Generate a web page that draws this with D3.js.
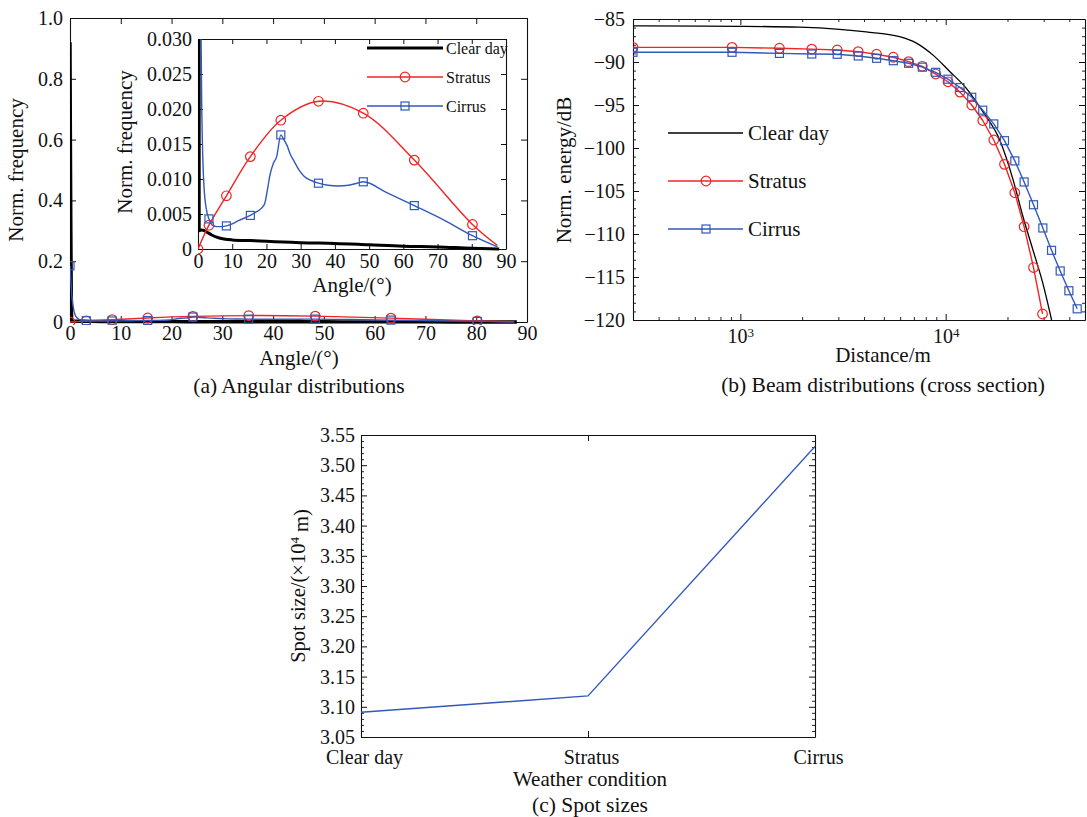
<!DOCTYPE html>
<html>
<head>
<meta charset="utf-8">
<script src="https://cdn.jsdelivr.net/npm/d3@7"></script>
<style>
  html, body { margin: 0; padding: 0; background: #fff; }
  svg { display: block; }
  text { font-family: "Liberation Serif", "Times New Roman", serif; fill: #111; }
</style>
</head>
<body>
<svg id="chart" width="1087" height="817"></svg>
<script>
// ---------------- DATA ----------------
// (a) Angular distributions
const aTicksX = [0, 10, 20, 30, 40, 50, 60, 70, 80, 90];
const aTicksY = [0, 0.2, 0.4, 0.6, 0.8, 1.0];
const insetTicksY = [0, 0.005, 0.010, 0.015, 0.020, 0.025, 0.030];
const markerAngles = [0, 3.2, 8.3, 15.3, 24.2, 35.2, 48.3, 63.2, 80.2];

const clearAngle = [0, 0.35, 1, 2, 3, 4, 6, 8, 10, 15, 20, 25, 30, 40, 50, 60, 70, 80, 88];
const clearFreq  = [0.92, 0.0026, 0.0027, 0.0026, 0.0023, 0.0020, 0.0016, 0.0014, 0.0013, 0.0012, 0.0011, 0.0010, 0.0009, 0.0008, 0.0006, 0.0004, 0.0003, 0.0001, 0.0];

const stratusAngle = [0, 3.2, 8.3, 15.3, 24.2, 35.2, 48.3, 63.2, 80.2, 87.5];
const stratusFreq  = [0, 0.0034, 0.0076, 0.0132, 0.0184, 0.0211, 0.0194, 0.0127, 0.0035, 0.0005];

const cirrusAngle = [0, 0.4, 0.8, 1.1, 1.4, 1.8, 2.4, 3.2, 4.2, 5.5, 7, 8.3, 10, 12, 15.3, 17, 18.5, 19.5, 20.3, 21, 22, 23, 24.2, 25, 26, 27, 28, 29.5, 31, 33, 35.2, 38, 41, 44, 46.5, 48.3, 55, 63.2, 72, 80.2, 87.5];
const cirrusFreq  = [0.185, 0.08, 0.035, 0.02, 0.013, 0.0085, 0.0058, 0.0043, 0.0034, 0.0032, 0.0032, 0.0033, 0.0036, 0.0041, 0.0048, 0.0053, 0.0058, 0.0065, 0.0085, 0.0105, 0.0122, 0.0132, 0.0163, 0.0157, 0.0148, 0.0135, 0.0126, 0.0113, 0.0104, 0.0098, 0.0094, 0.0091, 0.0090, 0.0091, 0.0094, 0.0096, 0.0081, 0.0062, 0.0041, 0.0019, 0.0003];

// (b) Beam distributions
const bTicksY = [-120, -115, -110, -105, -100, -95, -90, -85];
const bTicksXMajor = [1000, 10000];
const bTicksXMinor = [400, 500, 600, 700, 800, 900, 2000, 3000, 4000, 5000, 6000, 7000, 8000, 9000, 20000, 30000, 40000];

const bClearDist = [300, 990, 1941, 3040, 4100, 5960, 7200, 8680, 10460, 12610, 15200, 18330, 21300, 23800, 26640, 29780, 32800];
const bClearDB   = [-85.8, -85.85, -85.95, -86.2, -86.5, -87.06, -87.8, -89.2, -91.1, -93.06, -95.8, -99.07, -103.7, -108, -111.9, -115.8, -120];

const bStratusDist = [300, 911, 1550, 2227, 2963, 3750, 4607, 5558, 6599, 7696, 8940, 10261, 11744, 13393, 15153, 17145, 19336, 21715, 24099, 26776, 29630];
const bStratusDB   = [-88.3, -88.3, -88.4, -88.5, -88.6, -88.8, -89.1, -89.45, -89.96, -90.5, -91.4, -92.3, -93.5, -95.0, -96.8, -99.07, -101.9, -105.2, -109.15, -113.9, -119.3];

const bCirrusDist = [300, 911, 1550, 2227, 2963, 3750, 4607, 5558, 6599, 7696, 8940, 10261, 11744, 13393, 15153, 17145, 19336, 21715, 24099, 26776, 29730, 32783, 36110, 39811, 43706];
const bCirrusDB   = [-88.87, -88.87, -89.0, -89.07, -89.1, -89.3, -89.57, -89.85, -90.15, -90.6, -91.2, -92.0, -92.97, -94.1, -95.6, -97.2, -99.15, -101.5, -103.95, -106.6, -109.3, -111.9, -114.3, -116.6, -118.7];

// (c) Spot sizes
const cCategories = ["Clear day", "Stratus", "Cirrus"];
const cSpot = [3.091, 3.118, 3.531];
const cTicksY = [3.05, 3.10, 3.15, 3.20, 3.25, 3.30, 3.35, 3.40, 3.45, 3.50, 3.55];

const legendNames = ["Clear day", "Stratus", "Cirrus"];

// ---------------- STYLE ----------------
const RED = "#f02424", BLUE = "#3158bb", BLACK = "#000";
const svg = d3.select("#chart");
svg.append("rect").attr("width", 1087).attr("height", 817).attr("fill", "#fff");
const defs = svg.append("defs");
function clip(id, x0, y0, x1, y1) {
  defs.append("clipPath").attr("id", id).append("rect")
    .attr("x", x0).attr("y", y0).attr("width", x1 - x0).attr("height", y1 - y0);
  return "url(#" + id + ")";
}

function styleAxis(g, fs) {
  g.select(".domain").attr("stroke", "#111").attr("stroke-width", 1.1);
  g.selectAll(".tick line").attr("stroke", "#111").attr("stroke-width", 1);
  g.selectAll(".tick text").attr("font-size", fs).attr("fill", "#111")
    .attr("font-family", '"Liberation Serif", "Times New Roman", serif');
}
function box(g, x, y, opts) {
  const [x0, x1] = x.range(), [y0, y1] = y.range(); // y0 bottom, y1 top
  const fs = opts.fs || 20;
  const b = g.append("g").attr("transform", `translate(0,${y0})`)
    .call(opts.bottom.tickSize(-opts.major).tickSizeOuter(0).tickPadding(opts.padB));
  styleAxis(b, fs);
  const t = g.append("g").attr("transform", `translate(0,${y1})`)
    .call(opts.top.tickSize(-opts.major).tickSizeOuter(0).tickFormat(""));
  styleAxis(t, fs);
  const l = g.append("g").attr("transform", `translate(${x0},0)`)
    .call(opts.left.tickSize(-opts.major).tickSizeOuter(0).tickPadding(opts.padL));
  styleAxis(l, fs);
  const r = g.append("g").attr("transform", `translate(${x1},0)`)
    .call(opts.right.tickSize(-opts.major).tickSizeOuter(0).tickFormat(""));
  styleAxis(r, fs);
  return {b, t, l, r};
}
function minor(g, axisGen, pos, len) {
  const m = g.append("g").attr("transform", pos)
    .call(axisGen.tickSize(-len).tickSizeOuter(0).tickFormat(""));
  m.select(".domain").remove();
  m.selectAll(".tick line").attr("stroke", "#111").attr("stroke-width", 0.9);
}
function drawSeries(g, xs, ys, xS, yS, o) {
  const pts = xs.map((v, i) => [v, ys[i]]);
  g.append("path").datum(pts)
    .attr("fill", "none").attr("stroke", o.color).attr("stroke-width", o.width)
    .attr("stroke-linejoin", "round")
    .attr("d", d3.line().x(d => xS(d[0])).y(d => yS(d[1])).curve(o.curve || d3.curveLinear));
  if (o.marker) {
    const mpts = o.markerFilter ? pts.filter(o.markerFilter) : pts;
    drawMarkers(g, mpts.map(d => [xS(d[0]), yS(d[1])]), o.marker, o.color, o.msize);
  }
}
function drawMarkers(g, pix, type, color, size) {
  if (type === "circle") {
    g.selectAll(null).data(pix).enter().append("circle")
      .attr("cx", d => d[0]).attr("cy", d => d[1]).attr("r", size)
      .attr("fill", "none").attr("stroke", color).attr("stroke-width", 1.2);
  } else {
    g.selectAll(null).data(pix).enter().append("rect")
      .attr("x", d => d[0] - size).attr("y", d => d[1] - size)
      .attr("width", 2 * size).attr("height", 2 * size)
      .attr("fill", "none").attr("stroke", color).attr("stroke-width", 1.2);
  }
}
const nearMarker = d => markerAngles.some(a => Math.abs(a - d[0]) < 1e-6);

// ---------------- PANEL (a) ----------------
const ax = d3.scaleLinear().domain([0, 90]).range([70, 527]);
const ay = d3.scaleLinear().domain([0, 1]).range([322, 18]);
const ga = svg.append("g");
const fmtA = d => d === 0 ? "0" : d3.format(".1f")(d);
box(ga, ax, ay, {
  bottom: d3.axisBottom(ax).tickValues(aTicksX),
  top: d3.axisTop(ax).tickValues(aTicksX),
  left: d3.axisLeft(ay).tickValues(aTicksY).tickFormat(fmtA),
  right: d3.axisRight(ay).tickValues(aTicksY),
  major: 6, padB: 4, padL: 7, fs: 20
});
const gaPlot = ga.append("g").attr("clip-path", clip("clipA", 70, 10, 527, 325));
drawSeries(gaPlot, clearAngle, clearFreq, ax, ay, {color: BLACK, width: 3.4, curve: d3.curveMonotoneX});
drawSeries(gaPlot, stratusAngle, stratusFreq, ax, ay, {color: RED, width: 1.4, curve: d3.curveCatmullRom, marker: "circle", msize: 4.8, markerFilter: nearMarker});
drawSeries(gaPlot, cirrusAngle, cirrusFreq, ax, ay, {color: BLUE, width: 1.4, curve: d3.curveMonotoneX, marker: "square", msize: 4, markerFilter: nearMarker});

ga.append("text").attr("transform", "translate(23,170) rotate(-90)").attr("text-anchor", "middle")
  .attr("font-size", 21).text("Norm. frequency");
ga.append("text").attr("x", 299).attr("y", 365).attr("text-anchor", "middle").attr("font-size", 21).text("Angle/(°)");
ga.append("text").attr("x", 299).attr("y", 393).attr("text-anchor", "middle").attr("font-size", 21.5).text("(a) Angular distributions");

// Inset
const ix = d3.scaleLinear().domain([0, 90]).range([198, 506]);
const iy = d3.scaleLinear().domain([0, 0.03]).range([249, 39]);
const gi = svg.append("g");
gi.append("rect").attr("x", 198).attr("y", 39).attr("width", 308).attr("height", 210).attr("fill", "#fff");
const fmtI = d => d === 0 ? "0" : d3.format(".3f")(d);
box(gi, ix, iy, {
  bottom: d3.axisBottom(ix).tickValues(aTicksX),
  top: d3.axisTop(ix).tickValues(aTicksX),
  left: d3.axisLeft(iy).tickValues(insetTicksY).tickFormat(fmtI),
  right: d3.axisRight(iy).tickValues(insetTicksY),
  major: 5, padB: 5, padL: 6, fs: 20
});
const giPlot = gi.append("g").attr("clip-path", clip("clipI", 198, 39, 506, 256));
drawSeries(giPlot, clearAngle, clearFreq, ix, iy, {color: BLACK, width: 3, curve: d3.curveMonotoneX});
drawSeries(giPlot, stratusAngle, stratusFreq, ix, iy, {color: RED, width: 1.4, curve: d3.curveCatmullRom, marker: "circle", msize: 4.8, markerFilter: nearMarker});
drawSeries(giPlot, cirrusAngle, cirrusFreq, ix, iy, {color: BLUE, width: 1.4, curve: d3.curveMonotoneX, marker: "square", msize: 4, markerFilter: nearMarker});
gi.append("text").attr("transform", "translate(132,142) rotate(-90)").attr("text-anchor", "middle")
  .attr("font-size", 21).text("Norm. frequency");
gi.append("text").attr("x", 352).attr("y", 292).attr("text-anchor", "middle").attr("font-size", 21).text("Angle/(°)");

// inset legend
const insetLeg = [
  {name: legendNames[0], color: BLACK, w: 3, m: null, y: 48},
  {name: legendNames[1], color: RED, w: 1.4, m: "circle", y: 77},
  {name: legendNames[2], color: BLUE, w: 1.4, m: "square", y: 106}
];
insetLeg.forEach(d => {
  gi.append("line").attr("x1", 367).attr("x2", 443).attr("y1", d.y).attr("y2", d.y)
    .attr("stroke", d.color).attr("stroke-width", d.w);
  if (d.m) drawMarkers(gi, [[405, d.y]], d.m, d.color, d.m === "circle" ? 4.8 : 4);
  gi.append("text").attr("x", 446).attr("y", d.y + 5.5).attr("font-size", 16).text(d.name);
});

// ---------------- PANEL (b) ----------------
const bx = d3.scaleLog().domain([300, 47700]).range([633, 1085]);
const by = d3.scaleLinear().domain([-120, -85]).range([320, 19]);
const gb = svg.append("g");
const bAx = box(gb, bx, by, {
  bottom: d3.axisBottom(bx).tickValues(bTicksXMajor),
  top: d3.axisTop(bx).tickValues(bTicksXMajor),
  left: d3.axisLeft(by).tickValues(bTicksY).tickFormat(d3.format("d")),
  right: d3.axisRight(by).tickValues(bTicksY),
  major: 6, padB: 9, padL: 8, fs: 20
});
bAx.b.selectAll(".tick text").each(function(d) {
  const t = d3.select(this);
  t.text(null);
  t.append("tspan").text("10");
  t.append("tspan").attr("dy", "-0.45em").attr("font-size", 13).text(Math.round(Math.log10(d)));
});
const bMinorY = d3.range(-120, -84, 1).filter(v => v % 5 !== 0);
minor(gb, d3.axisBottom(bx).tickValues(bTicksXMinor), "translate(0,320)", 3);
minor(gb, d3.axisTop(bx).tickValues(bTicksXMinor), "translate(0,19)", 3);
minor(gb, d3.axisLeft(by).tickValues(bMinorY), "translate(633,0)", 3);
minor(gb, d3.axisRight(by).tickValues(bMinorY), "translate(1085,0)", 3);

const gbPlot = gb.append("g").attr("clip-path", clip("clipB", 633, 12, 1085, 326));
drawSeries(gbPlot, bClearDist, bClearDB, bx, by, {color: BLACK, width: 1.3, curve: d3.curveMonotoneX});
drawSeries(gbPlot, bStratusDist, bStratusDB, bx, by, {color: RED, width: 1.4, marker: "circle", msize: 4.8});
drawSeries(gbPlot, bCirrusDist, bCirrusDB, bx, by, {color: BLUE, width: 1.4, marker: "square", msize: 4});

gb.append("text").attr("transform", "translate(571,170) rotate(-90)").attr("text-anchor", "middle")
  .attr("font-size", 21).text("Norm. energy/dB");
gb.append("text").attr("x", 883).attr("y", 362).attr("text-anchor", "middle").attr("font-size", 21).text("Distance/m");
gb.append("text").attr("x", 883).attr("y", 392).attr("text-anchor", "middle").attr("font-size", 21.5).text("(b) Beam distributions (cross section)");

const bLeg = [
  {name: legendNames[0], color: BLACK, w: 1.3, m: null, y: 133},
  {name: legendNames[1], color: RED, w: 1.4, m: "circle", y: 181},
  {name: legendNames[2], color: BLUE, w: 1.4, m: "square", y: 229}
];
bLeg.forEach(d => {
  gb.append("line").attr("x1", 668).attr("x2", 743).attr("y1", d.y).attr("y2", d.y)
    .attr("stroke", d.color).attr("stroke-width", d.w);
  if (d.m) drawMarkers(gb, [[706, d.y]], d.m, d.color, d.m === "circle" ? 4.8 : 4);
  gb.append("text").attr("x", 748).attr("y", d.y + 7).attr("font-size", 21).text(d.name);
});

// ---------------- PANEL (c) ----------------
const cx = d3.scalePoint().domain(cCategories).range([361, 815]);
const cy = d3.scaleLinear().domain([3.05, 3.55]).range([737, 435]);
const gc = svg.append("g");
const cAx = box(gc, cx, cy, {
  bottom: d3.axisBottom(cx),
  top: d3.axisTop(cx),
  left: d3.axisLeft(cy).tickValues(cTicksY).tickFormat(d3.format(".2f")),
  right: d3.axisRight(cy).tickValues(cTicksY),
  major: 6, padB: 13, padL: 6, fs: 20
});
cAx.b.selectAll(".tick text").attr("dx", 3);
const cMinorY = d3.range(3.05, 3.5501, 0.01).filter(v => Math.abs(Math.round(v * 20) - v * 20) > 1e-6);
minor(gc, d3.axisLeft(cy).tickValues(cMinorY), "translate(361,0)", 3);
minor(gc, d3.axisRight(cy).tickValues(cMinorY), "translate(815,0)", 3);
const gcPlot = gc.append("g").attr("clip-path", clip("clipC", 361, 435, 815, 737));
gcPlot.append("path").datum(cCategories.map((c, i) => [c, cSpot[i]]))
  .attr("fill", "none").attr("stroke", BLUE).attr("stroke-width", 1.4)
  .attr("d", d3.line().x(d => cx(d[0])).y(d => cy(d[1])));

const cyl = gc.append("text").attr("transform", "translate(305,586) rotate(-90)").attr("text-anchor", "middle")
  .attr("font-size", 20.5);
cyl.append("tspan").text("Spot size/(×10");
cyl.append("tspan").attr("dy", "-0.45em").attr("font-size", 13).text("4");
cyl.append("tspan").attr("dy", "0.45em").text(" m)");
gc.append("text").attr("x", 590).attr("y", 786).attr("text-anchor", "middle").attr("font-size", 21).text("Weather condition");
gc.append("text").attr("x", 590).attr("y", 812).attr("text-anchor", "middle").attr("font-size", 21.5).text("(c) Spot sizes");
</script>
</body>
</html>
